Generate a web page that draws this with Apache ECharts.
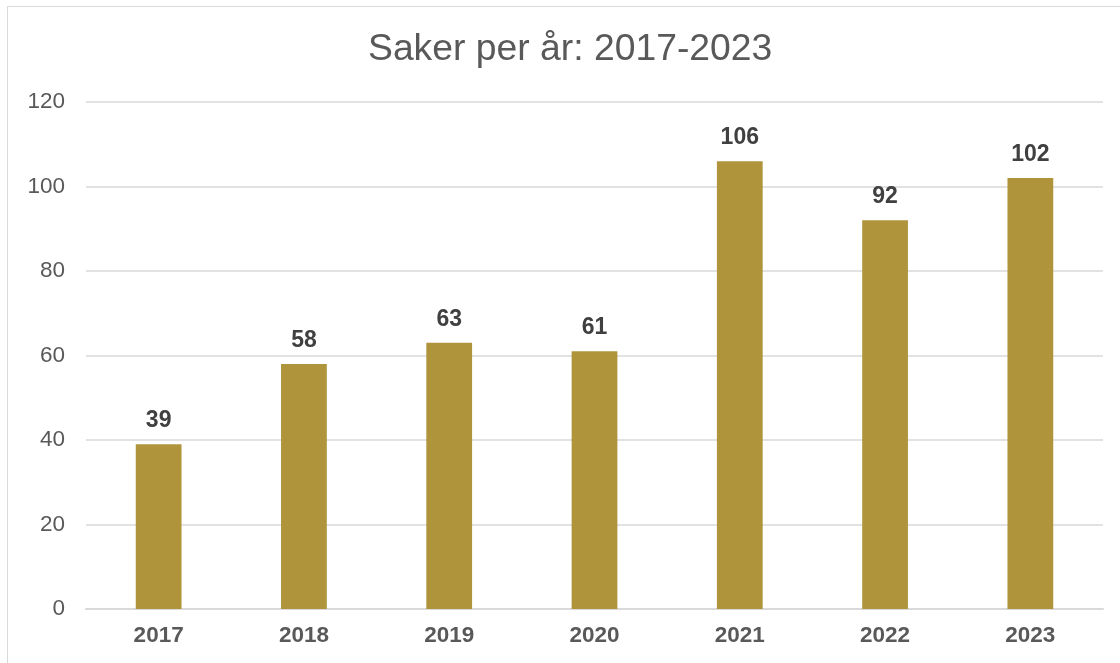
<!DOCTYPE html>
<html>
<head>
<meta charset="utf-8">
<script src="https://cdn.jsdelivr.net/npm/echarts@6/dist/echarts.min.js"></script>
<style>
  html, body { margin: 0; padding: 0; background: #fff; overflow: hidden; }
  #frame {
    position: absolute; left: 7px; top: 6px; width: 1130px; height: 680px;
    border: 1px solid #d9d9d9; box-sizing: border-box;
  }
  #chart { position: absolute; left: 0; top: 0; width: 1120px; height: 663px; }
</style>
</head>
<body>
<div id="frame"></div>
<div id="chart"></div>
<script>
// data
const years = ['2017', '2018', '2019', '2020', '2021', '2022', '2023']
const cases = [39, 58, 63, 61, 106, 92, 102]
const yTicks = { min: 0, max: 120, step: 20 }

const chart = echarts.init(document.getElementById('chart'))
chart.setOption({
  animation: false,
  title: {
    text: 'Saker per år: 2017-2023',
    left: 363,
    top: 26,
    textStyle: { fontFamily: 'Liberation Sans', fontSize: 37.3, fontWeight: 'normal', color: '#595959' }
  },
  grid: { left: 86, right: 17, top: 102, bottom: 54 },
  xAxis: {
    type: 'category',
    data: years,
    axisLine: { lineStyle: { color: '#d9d9d9', width: 2 } },
    axisTick: { show: false },
    axisLabel: { fontFamily: 'Liberation Sans', fontSize: 22.5, fontWeight: 'bold', color: '#595959', margin: 15 }
  },
  yAxis: {
    type: 'value',
    min: yTicks.min,
    max: yTicks.max,
    interval: yTicks.step,
    axisLine: { show: false },
    axisTick: { show: false },
    splitLine: { lineStyle: { color: '#d9d9d9', width: 1.5 } },
    axisLabel: { fontFamily: 'Liberation Sans', fontSize: 22.5, color: '#595959', margin: 21 }
  },
  series: [{
    type: 'bar',
    data: cases,
    barWidth: '31.5%',
    itemStyle: { color: '#B0943B' },
    label: {
      show: true,
      position: 'top',
      distance: 12,
      fontFamily: 'Liberation Sans',
      fontSize: 23,
      fontWeight: 'bold',
      color: '#404040'
    }
  }]
})
</script>
</body>
</html>
